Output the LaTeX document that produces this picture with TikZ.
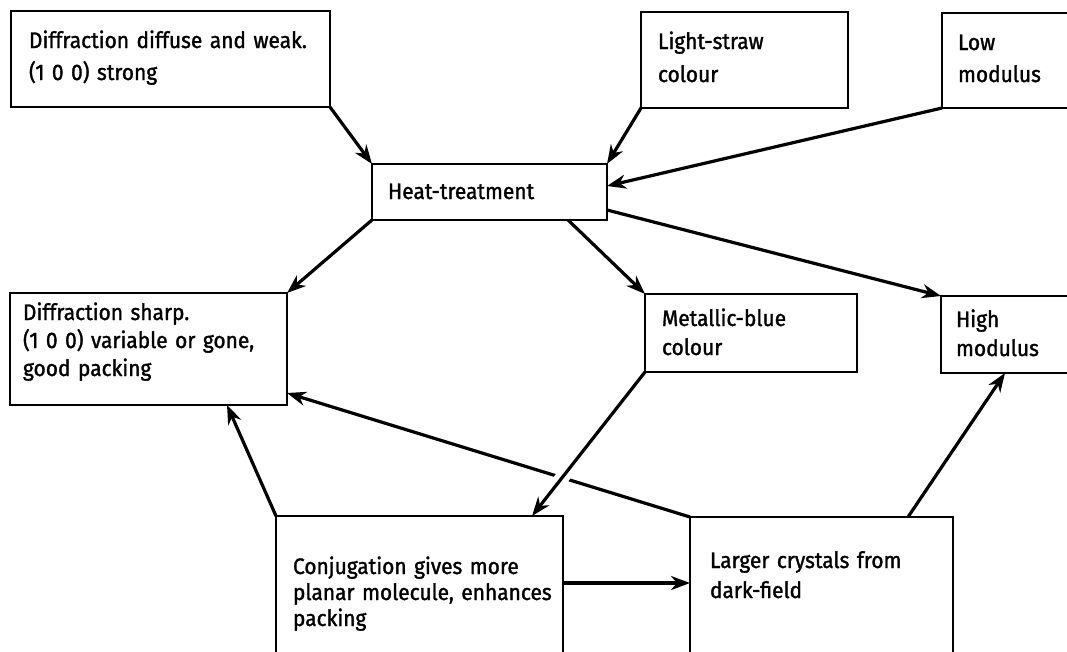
\documentclass[tikz,border=0pt]{standalone}
\usepackage{fontspec}
\setmainfont{Fira Sans}[FakeStretch=0.93, BoldFont=Fira Sans, BoldFeatures={FakeBold=1.4, FakeStretch=0.93}]
\usetikzlibrary{arrows.meta}
\begin{document}
\begin{tikzpicture}[x=1pt,y=-1pt,
  box/.style={draw, line width=2.2pt, rectangle, anchor=north west, inner ysep=0pt, outer sep=0pt, align=left, font=\bfseries\fontsize{22.5}{30}\selectfont},
  arr/.style={line width=3.2pt, -{Stealth[length=19pt,width=14pt,inset=6pt]}},
  hop/.style={preaction={draw=white, line width=14pt, -, shorten <=100pt, shorten >=30pt}}]

\useasboundingbox (0,0) rectangle (1067,651);
\clip (0,0) rectangle (1067,651);

\node[box, inner xsep=18pt, text width=283pt, text height=37pt, text depth=59pt, font=\bfseries\fontsize{22.5}{32}\selectfont] (b1) at (11,11) {\mbox{Diffraction diffuse and weak.}\\\mbox{(1 0 0) strong}};
\node[box, inner xsep=17pt, text width=173pt, text height=37pt, text depth=59pt, font=\bfseries\fontsize{22.5}{33}\selectfont] (straw) at (641,12) {\mbox{Light-straw}\\\mbox{colour}};
\node[box, inner xsep=16pt, text width=118pt, text height=37pt, text depth=58pt, font=\bfseries\fontsize{22.5}{32}\selectfont] (low) at (942,13) {\mbox{Low}\\\mbox{modulus}};
\node[box, inner xsep=16pt, text width=203pt, text height=35pt, text depth=21pt] (heat) at (372,164) {\mbox{Heat-treatment}};
\node[box, inner xsep=13pt, text width=251pt, text height=27pt, text depth=85pt, font=\bfseries\fontsize{22.5}{28}\selectfont] (dsharp) at (10,293) {\mbox{Diffraction sharp.}\\\mbox{(1 0 0) variable or gone,}\\\mbox{good packing}};
\node[box, inner xsep=17pt, text width=178pt, text height=32pt, text depth=46pt, font=\bfseries\fontsize{22.5}{29}\selectfont] (met) at (645,294) {\mbox{Metallic-blue}\\\mbox{colour}};
\node[box, inner xsep=15pt, text width=120pt, text height=31pt, text depth=46pt, font=\bfseries\fontsize{22.5}{29}\selectfont] (high) at (941,296) {\mbox{High}\\\mbox{modulus}};
\node[box, inner xsep=17pt, text width=253pt, text height=58pt, text depth=112pt, font=\bfseries\fontsize{22.5}{26}\selectfont] (conj) at (276,516) {\mbox{Conjugation gives more}\\\mbox{planar molecule, enhances}\\\mbox{packing}};
\node[box, inner xsep=20pt, text width=223pt, text height=51pt, text depth=119pt, font=\bfseries\fontsize{22.5}{30}\selectfont] (larger) at (690,517) {\mbox{Larger crystals from}\\\mbox{dark-field}};

\draw[arr] (b1.south east) -- (heat.north west);
\draw[arr] (straw.south west) -- (heat.north east);
\draw[arr] (low.south west) -- ([yshift=-22pt]heat.north east);
\draw[arr] (heat.south west) -- (dsharp.north east);
\draw[arr] ([xshift=-39pt]heat.south east) -- (met.north west);
\draw[arr] ([yshift=-46pt]heat.north east) -- (high.north west);
\draw[arr] (larger.north west) -- ([yshift=12pt]dsharp.south east);
\draw[arr, hop] (met.south west) -- ([xshift=-31pt]conj.north east);
\draw[arr] (conj.north west) -- ([xshift=-60pt]dsharp.south east);
\draw[arr] ([yshift=-67pt]conj.north east) coordinate (c10) -- (c10 -| larger.west);
\draw[arr] ([xshift=-45pt]larger.north east) -- ([xshift=64pt]high.south west);
\end{tikzpicture}
\end{document}
